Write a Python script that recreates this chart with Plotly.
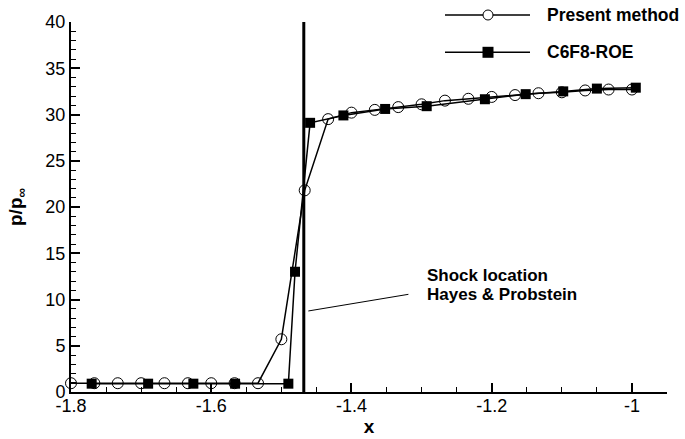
import plotly.graph_objects as go

# ---- data ----
present_x = [-1.8, -1.7667, -1.7333, -1.7, -1.6667, -1.6333, -1.6, -1.5667, -1.5333,
             -1.5, -1.4667, -1.4333, -1.4, -1.3667, -1.3333, -1.3, -1.2667, -1.2333,
             -1.2, -1.1667, -1.1333, -1.1, -1.0667, -1.0333, -1.0]
present_y = [0.95, 0.95, 0.95, 0.95, 0.95, 0.95, 0.95, 0.95, 0.95,
             5.7, 21.8, 29.5, 30.2, 30.5, 30.8, 31.1, 31.5, 31.7,
             31.9, 32.1, 32.3, 32.4, 32.6, 32.7, 32.7]

roe_x = [-1.7705, -1.690, -1.6255, -1.566, -1.490, -1.4805, -1.459, -1.4115,
         -1.352, -1.2927, -1.2097, -1.1515, -1.098, -1.050, -0.9945]
roe_y = [0.9, 0.9, 0.9, 0.9, 0.9, 13.0, 29.1, 29.9,
         30.6, 30.9, 31.65, 32.2, 32.5, 32.8, 32.9]

shock_x = -1.468
shock_y = [0, 40]

x_tickvals = [-1.8, -1.6, -1.4, -1.2, -1.0]
x_ticktext = ["-1.8", "-1.6", "-1.4", "-1.2", "-1"]
y_tickvals = [0, 5, 10, 15, 20, 25, 30, 35, 40]
y_ticktext = ["0", "5", "10", "15", "20", "25", "30", "35", "40"]

series_names = ["Present method", "C6F8-ROE"]
note_lines = ["Shock location", "Hayes & Probstein"]
pointer = {"x": [-1.4615, -1.3188], "y": [8.76, 10.56]}

FONT = "Liberation Sans, Arial, sans-serif"

fig = go.Figure()
fig.add_trace(go.Scatter(
    x=present_x, y=present_y, mode="lines+markers", name=series_names[0],
    line=dict(color="black", width=1.5),
    marker=dict(symbol="circle-open", size=11, color="black", line=dict(width=1)),
    cliponaxis=False, showlegend=False))
fig.add_trace(go.Scatter(
    x=roe_x, y=roe_y, mode="lines+markers", name=series_names[1],
    line=dict(color="black", width=1.5),
    marker=dict(symbol="square", size=10, color="black"),
    cliponaxis=False, showlegend=False))

# shock location line
fig.add_shape(type="line", xref="x", yref="y", x0=shock_x, x1=shock_x,
              y0=shock_y[0], y1=shock_y[1], line=dict(color="black", width=3))
# pointer line to note
fig.add_shape(type="line", xref="x", yref="y", x0=pointer["x"][0], x1=pointer["x"][1],
              y0=pointer["y"][0], y1=pointer["y"][1], line=dict(color="black", width=1))

# plot area in pixels: x 71..667, y 22..392
L, R, T, B = 71, 667, 22, 392
def px(p):
    return (p - L) / (R - L)
def py(p):
    return (B - p) / (B - T)

# note text
for i, (txt, ypix) in enumerate(zip(note_lines, [275.7, 294.3])):
    fig.add_annotation(x=px(425), y=py(ypix), xref="paper", yref="paper",
                       text="<b>%s</b>" % txt, showarrow=False,
                       xanchor="left", yanchor="middle",
                       font=dict(family=FONT, size=17, color="black"))

# manual legend
leg_rows = [15, 52.3]
for i, (name, ypix) in enumerate(zip(series_names, leg_rows)):
    fig.add_shape(type="line", xref="paper", yref="paper",
                  x0=px(445), x1=px(530), y0=py(ypix), y1=py(ypix),
                  line=dict(color="black", width=1.5))
    if i == 0:
        fig.add_shape(type="circle", xref="paper", yref="paper",
                      xsizemode="pixel", ysizemode="pixel",
                      xanchor=px(488), yanchor=py(ypix),
                      x0=-5, x1=5, y0=-5, y1=5,
                      line=dict(color="black", width=1), fillcolor="white")
    else:
        fig.add_shape(type="rect", xref="paper", yref="paper",
                      xsizemode="pixel", ysizemode="pixel",
                      xanchor=px(488), yanchor=py(ypix),
                      x0=-5.5, x1=5.5, y0=-5.5, y1=5.5,
                      line=dict(color="black", width=0), fillcolor="black")
    fig.add_annotation(x=px(545), y=py(ypix), xref="paper", yref="paper",
                       text="<b>%s</b>" % name, showarrow=False,
                       xanchor="left", yanchor="middle",
                       font=dict(family=FONT, size=17.5, color="black"))

fig.update_layout(
    width=685, height=439,
    margin=dict(l=L, r=685 - R, t=T, b=439 - B),
    paper_bgcolor="white", plot_bgcolor="white",
    font=dict(family=FONT, size=18, color="black"),
    showlegend=False,
)
fig.update_xaxes(
    range=[-1.8, -0.95], showgrid=False, zeroline=False, automargin=False,
    showline=True, linecolor="black", linewidth=2,
    tickmode="array", tickvals=x_tickvals, ticktext=x_ticktext,
    ticks="inside", ticklen=9, tickwidth=1.5, tickcolor="black",
    minor=dict(dtick=0.05, tick0=-1.8, ticks="inside", ticklen=5, tickwidth=1, tickcolor="black"),
    tickfont=dict(family=FONT, size=18), ticklabelstandoff=-4,
    title=dict(text="<b>x</b>", font=dict(family=FONT, size=19), standoff=5),
)
fig.update_yaxes(
    range=[0, 40], showgrid=False, zeroline=False, automargin=False,
    showline=True, linecolor="black", linewidth=2,
    tickmode="array", tickvals=y_tickvals, ticktext=y_ticktext,
    ticks="inside", ticklen=9, tickwidth=1.5, tickcolor="black",
    minor=dict(dtick=1, tick0=0, ticks="inside", ticklen=5, tickwidth=1, tickcolor="black"),
    tickfont=dict(family=FONT, size=18),
    title=dict(text="<b>p/p<sub>∞</sub></b>", font=dict(family=FONT, size=19), standoff=18),
)

fig.write_html("out.html")
